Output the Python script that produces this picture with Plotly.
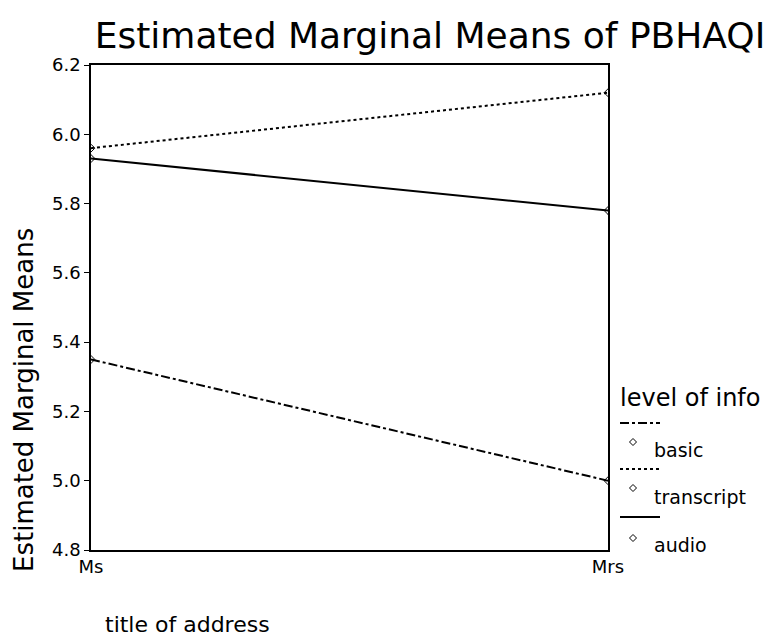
import plotly.graph_objects as go

# ---- data ----
categories = ["Ms", "Mrs"]
series_names = ["basic", "transcript", "audio"]
basic_vals = [5.35, 5.00]
transcript_vals = [5.96, 6.12]
audio_vals = [5.93, 5.78]
y_ticks = [4.8, 5.0, 5.2, 5.4, 5.6, 5.8, 6.0, 6.2]
y_tick_labels = ["4.8", "5.0", "5.2", "5.4", "5.6", "5.8", "6.0", "6.2"]

values = [basic_vals, transcript_vals, audio_vals]
dashes = ["dashdot", "dot", "solid"]

W, H = 769, 639
L, R, T, B = 91, 608, 65, 550
FONT = "DejaVu Sans"

def px(x):
    return (x - L) / (R - L)

def py(y):
    return (B - y) / (B - T)

fig = go.Figure()
for name, vals, dash in zip(series_names, values, dashes):
    fig.add_trace(go.Scatter(
        x=categories, y=vals, name=name, mode="lines+markers",
        line=dict(color="black", width=2, dash=dash),
        marker=dict(symbol="diamond-open", size=6, color="black", line=dict(width=1)),
        showlegend=False,
    ))

# custom legend (line sample above, marker + label below)
shapes = []
annotations = []
annotations.append(dict(text="level of info", xref="paper", yref="paper",
                        x=px(618), y=py(398), xanchor="left", yanchor="middle",
                        showarrow=False, font=dict(family=FONT, size=24, color="black")))
line_y = [423, 469, 517]
mark_y = [442, 488, 538]
lab_y = [450, 497, 545]
for i, (name, dash) in enumerate(zip(series_names, dashes)):
    shapes.append(dict(type="line", xref="paper", yref="paper",
                       x0=px(620), x1=px(660), y0=py(line_y[i]), y1=py(line_y[i]),
                       line=dict(color="black", width=2, dash=dash)))
    shapes.append(dict(type="path", xref="paper", yref="paper",
                       xsizemode="pixel", ysizemode="pixel",
                       xanchor=px(633), yanchor=py(mark_y[i]),
                       path="M 0,3.5 L 3.5,0 L 0,-3.5 L -3.5,0 Z",
                       line=dict(color="black", width=1), fillcolor="white"))
    annotations.append(dict(text=name, xref="paper", yref="paper",
                            x=px(652), y=py(lab_y[i]), xanchor="left", yanchor="middle",
                            showarrow=False, font=dict(family=FONT, size=19, color="black")))

# axis titles
annotations.append(dict(text="Estimated Marginal Means", xref="paper", yref="paper",
                        x=px(24), y=py(400), xanchor="center", yanchor="middle",
                        textangle=-90, showarrow=False,
                        font=dict(family=FONT, size=26, color="black")))
annotations.append(dict(text="title of address", xref="paper", yref="paper",
                        x=px(103), y=py(624), xanchor="left", yanchor="middle",
                        showarrow=False, font=dict(family=FONT, size=22, color="black")))

fig.update_layout(
    width=W, height=H,
    margin=dict(l=L, r=W - R, t=T, b=H - B),
    paper_bgcolor="white", plot_bgcolor="white",
    title=dict(text="Estimated Marginal Means of PBHAQI", xref="container", yref="container",
               x=430 / W, y=1 - 35 / H, xanchor="center", yanchor="middle",
               font=dict(family=FONT, size=36, color="black")),
    shapes=shapes, annotations=annotations,
    showlegend=False,
)
fig.update_xaxes(type="category", range=[0, 1], showgrid=False, zeroline=False,
                 showline=True, linecolor="black", linewidth=1.5, mirror=True,
                 ticks="", tickfont=dict(family=FONT, size=18, color="black"))
fig.update_yaxes(range=[4.8, 6.2], tickvals=y_ticks, ticktext=y_tick_labels,
                 showgrid=False, zeroline=False,
                 showline=True, linecolor="black", linewidth=1.5, mirror=True,
                 ticks="outside", ticklen=5, tickcolor="black",
                 tickfont=dict(family=FONT, size=18, color="black"))

fig.write_html("out.html")
